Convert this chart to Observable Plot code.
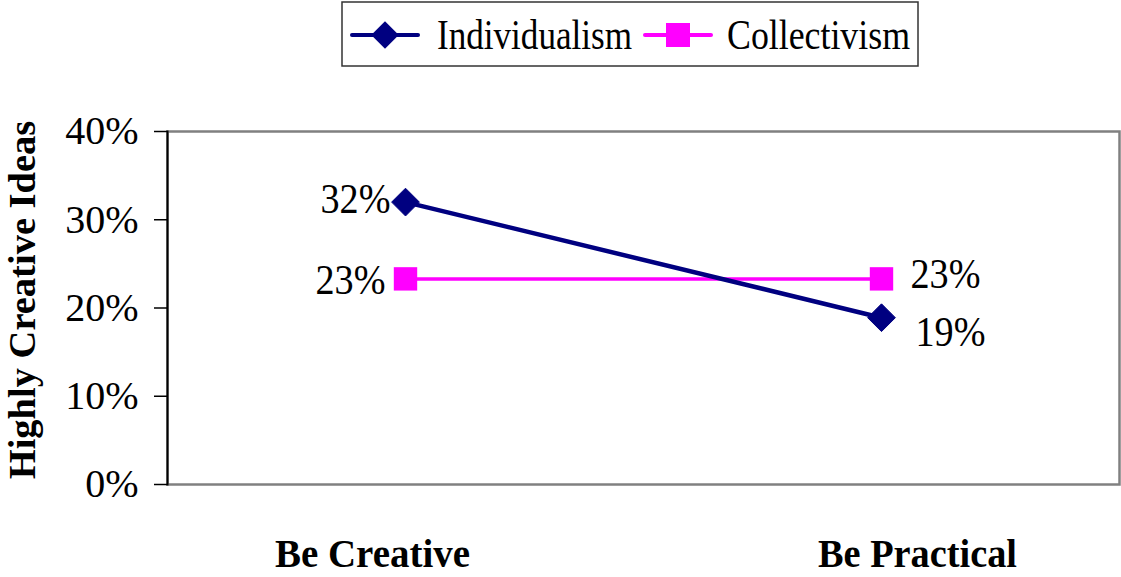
<!DOCTYPE html>
<html><head><meta charset="utf-8">
<script src="https://cdn.jsdelivr.net/npm/d3@7"></script>
<script src="https://cdn.jsdelivr.net/npm/@observablehq/plot@0.6"></script>
<style>
body{margin:0;background:#fff;font-family:"Liberation Serif","Times New Roman",serif;}
#legend{height:70px;}
#legend svg,#chart svg{display:block;}
</style>
</head><body><div id="legend"></div><div id="chart"></div>
<script>
const conditions = ["Be Creative", "Be Practical"];
const seriesNames = ["Individualism", "Collectivism"];
const individualism = [0.32, 0.189];
const collectivism = [0.233, 0.233];
const yTicks = [0, 0.1, 0.2, 0.3, 0.4];
const colors = ["#000080", "#FF00FF"];
const yTitle = "Highly Creative Ideas";

const pct = d3.format(".0%");
const indRows = conditions.map((c, i) => ({condition: c, series: seriesNames[0], value: individualism[i]}));
const colRows = conditions.map((c, i) => ({condition: c, series: seriesNames[1], value: collectivism[i]}));

const lbl = {x: "condition", y: "value", text: d => pct(d.value), fontSize: 43, className: "dlabel"};
const cat = {tickSize: 0, tickPadding: 53, fontSize: 41, fontWeight: "bold", label: null};

const chart = Plot.plot({
  width: 1121, height: 507,
  marginTop: 61, marginBottom: 93, marginLeft: 167, marginRight: 2,
  style: {fontFamily: "'Liberation Serif','Times New Roman',serif", background: "#fff", color: "#000"},
  x: {type: "point", domain: conditions, padding: 0.5, axis: null},
  y: {domain: [0, 0.4], axis: null},
  color: {domain: seriesNames, range: colors},
  marks: [
    Plot.frame({stroke: "#808080", strokeWidth: 2.5}),
    Plot.frame({anchor: "left", stroke: "#000", strokeWidth: 2}),
    Plot.axisY(yTicks, {tickFormat: pct, tickSize: 13, tickPadding: 16, fontSize: 40, strokeWidth: 1.5, label: null}),
    Plot.axisX([conditions[0]], {...cat, dx: -33, className: "cat0"}),
    Plot.axisX([conditions[1]], {...cat, dx: 36, className: "cat1"}),
    Plot.text([yTitle], {frameAnchor: "left", rotate: -90, dx: -145, dy: -8, fontSize: 38.5, fontWeight: "bold", textAnchor: "middle"}),
    Plot.line(colRows, {x: "condition", y: "value", stroke: "series", strokeWidth: 3.5}),
    Plot.line(indRows, {x: "condition", y: "value", stroke: "series", strokeWidth: 4.5}),
    Plot.dot(indRows, {x: "condition", y: "value", symbol: "diamond2", r: 12.5, fill: "series", stroke: "series", strokeWidth: 1}),
    Plot.dot(colRows, {x: "condition", y: "value", symbol: "square", r: 13.2, fill: "series"}),
    Plot.text(indRows.slice(0, 1), {...lbl, textAnchor: "end", dx: -15, dy: -3}),
    Plot.text(colRows.slice(0, 1), {...lbl, textAnchor: "end", dx: -20, dy: 1}),
    Plot.text(colRows.slice(1), {...lbl, textAnchor: "start", dx: 29, dy: -5}),
    Plot.text(indRows.slice(1), {...lbl, textAnchor: "start", dx: 34, dy: 15})
  ]
});
document.getElementById("chart").appendChild(chart);
const svg = d3.select(chart);
svg.selectAll(".dlabel text").attr("textLength", 70).attr("lengthAdjust", "spacingAndGlyphs");
svg.selectAll(".cat0 text").attr("textLength", 195).attr("lengthAdjust", "spacingAndGlyphs");
svg.selectAll(".cat1 text").attr("textLength", 199).attr("lengthAdjust", "spacingAndGlyphs");

// Legend (HTML/SVG above the chart)
const lg = d3.select("#legend").append("svg").attr("width", 1121).attr("height", 70);
lg.append("rect").attr("x", 342).attr("y", 2).attr("width", 576).attr("height", 64)
  .attr("fill", "none").attr("stroke", "#333").attr("stroke-width", 1.5);
const items = [
  {name: seriesNames[0], color: colors[0], x0: 352, tx: 437, tl: 195, shape: "diamond"},
  {name: seriesNames[1], color: colors[1], x0: 645, tx: 727, tl: 183, shape: "square"}
];
items.forEach(it => {
  lg.append("line").attr("x1", it.x0).attr("x2", it.x0 + 66).attr("y1", 35).attr("y2", 35)
    .attr("stroke", it.color).attr("stroke-width", 4).attr("stroke-linecap", "round");
  const cx = it.x0 + 33;
  if (it.shape === "diamond") {
    lg.append("path").attr("d", d3.symbol(d3.symbolDiamond2, 480)()).attr("transform", `translate(${cx},35)`).attr("fill", it.color);
  } else {
    lg.append("rect").attr("x", cx - 12).attr("y", 23).attr("width", 24).attr("height", 24).attr("fill", it.color);
  }
  lg.append("text").attr("x", it.tx).attr("y", 49).attr("font-size", 43)
    .attr("font-family", "'Liberation Serif','Times New Roman',serif")
    .attr("textLength", it.tl).attr("lengthAdjust", "spacingAndGlyphs").text(it.name);
});
</script>
</body></html>
